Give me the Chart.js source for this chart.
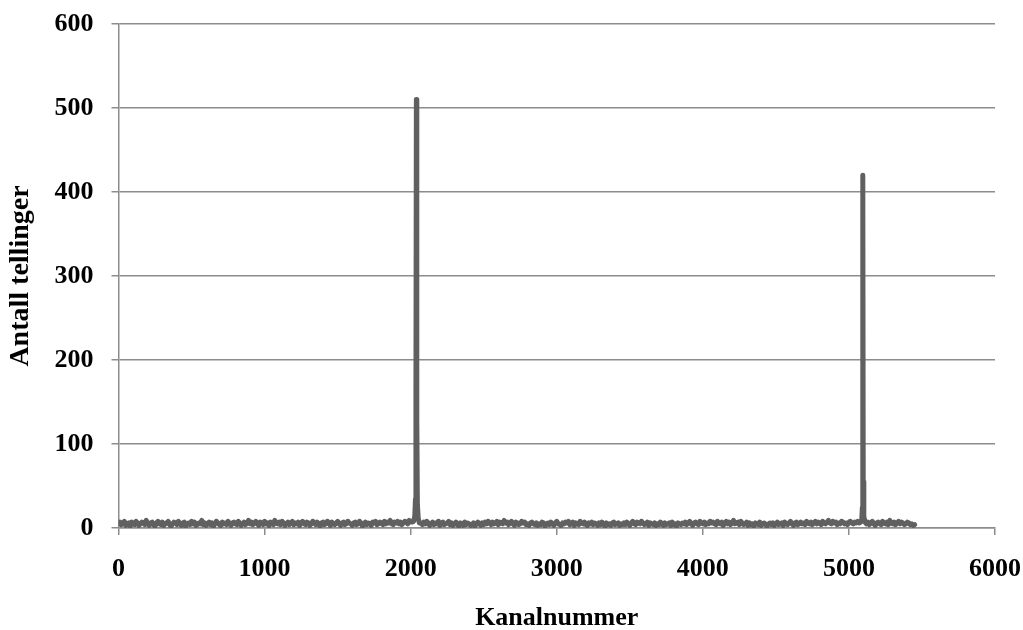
<!DOCTYPE html>
<html>
<head>
<meta charset="utf-8">
<script src="https://cdn.jsdelivr.net/npm/chart.js@4.4.0/dist/chart.umd.min.js"></script>
<style>
  html, body { margin: 0; padding: 0; background: #ffffff; }
  #wrap { width: 1023px; height: 630px; }
</style>
</head>
<body>
<div id="wrap"><canvas id="c" width="1023" height="630"></canvas></div>
<script>
// Spectrum read from the picture: background counts sampled every 10 channels,
// plus the two full-energy peaks.
const channelStep = 10;

const bgAStart = 0;      // channels 0 .. 2000
const bgA = [
  5,7,4,6,8,3,5,6,2,7,5,4,8,6,3,5,7,6,4,9,
  5,3,6,7,4,2,6,8,5,4,7,3,5,6,8,4,2,5,7,6,
  4,8,5,3,6,7,2,5,6,4,8,5,7,3,4,6,5,9,4,6,
  3,5,7,4,6,2,5,8,6,4,3,7,5,6,4,8,5,3,6,7,
  5,4,8,6,3,5,7,4,6,9,5,7,4,6,8,5,3,7,6,4,
  8,5,6,3,7,5,4,9,6,5,7,4,8,6,3,5,7,4,6,8,
  4,6,5,7,3,6,8,5,4,7,6,3,5,8,6,4,7,5,2,6,
  7,4,5,8,6,3,7,5,4,6,8,5,3,6,7,4,5,8,6,5,
  3,6,7,4,5,8,6,2,5,7,4,6,5,3,7,6,8,4,5,7,
  6,4,8,5,7,6,9,5,4,7,6,8,5,7,4,6,8,7,5,9,
  7
];

const peak1Channels = [2010, 2020, 2028, 2033, 2036, 2039, 2042, 2046, 2052, 2060];
const peak1Counts   = [   7,    8,   14,   35,  150,  510,  130,   28,   11,    6];

const bgBStart = 2070;   // channels 2070 .. 5080
const bgB = [
  6,4,7,5,8,6,3,5,7,4,6,5,8,3,6,7,4,5,6,8,
  4,6,3,5,7,4,2,6,5,3,7,4,6,5,3,4,6,2,5,7,
  5,3,6,4,7,5,8,6,4,7,5,6,8,4,7,6,5,9,6,7,
  4,6,8,5,3,7,6,4,5,8,6,7,4,5,3,6,7,5,4,6,
  3,5,4,7,6,2,5,6,4,7,5,3,6,8,5,4,3,6,5,7,
  6,8,4,5,7,3,6,5,4,8,6,5,7,4,3,6,5,7,4,6,
  5,3,6,4,7,5,2,6,4,5,3,6,7,4,5,6,3,5,4,6,
  4,7,5,3,6,8,5,4,7,6,5,8,6,4,5,7,3,6,5,4,
  6,3,5,4,7,5,3,6,4,5,6,3,7,4,5,2,6,5,4,6,
  5,7,4,6,8,5,3,6,7,5,4,8,6,5,7,4,6,5,8,6,
  7,5,4,8,6,5,7,3,6,8,5,7,4,6,9,5,6,7,4,8,
  6,4,5,7,3,6,4,5,2,6,5,4,7,3,5,6,4,2,5,6,
  4,6,3,5,7,4,5,6,3,7,5,4,6,8,5,3,6,7,4,5,
  7,5,6,4,8,6,5,7,4,6,8,5,7,6,4,8,6,5,7,9,
  6,5,8,6,7,4,6,5,8,7,5,6,4,7,8,6,5,7,6,8,
  6,7
];

const peak2Channels = [5088, 5092, 5094, 5096, 5098, 5102, 5110];
const peak2Counts   = [  10,   25,   60,  420,   55,   14,    7];

const bgCStart = 5120;   // channels 5120 .. 5450
const bgC = [
  5,7,4,6,8,5,3,6,7,5,4,8,6,5,7,4,9,6,5,7,
  4,6,8,5,7,6,4,5,7,6,4,5,3,4
];

const xTicks = [0, 1000, 2000, 3000, 4000, 5000, 6000];
const yTicks = [0, 100, 200, 300, 400, 500, 600];
const xTitle = 'Kanalnummer';
const yTitle = 'Antall tellinger';

// Build the (channel, count) table for the library
const bgPoints = (start, arr) => arr.map((v, i) => ({ x: start + i * channelStep, y: v }));
const pkPoints = (chs, cts) => chs.map((ch, i) => ({ x: ch, y: cts[i] }));
const points = [].concat(
  bgPoints(bgAStart, bgA),
  pkPoints(peak1Channels, peak1Counts),
  bgPoints(bgBStart, bgB),
  pkPoints(peak2Channels, peak2Counts),
  bgPoints(bgCStart, bgC)
);

const gridColor = '#8c8c8c';
const fontFam = "'Liberation Serif', 'Times New Roman', serif";

function noOverhang(s) {
  s.paddingLeft = 0; s.paddingRight = 0; s.paddingTop = 0; s.paddingBottom = 0;
}

new Chart(document.getElementById('c'), {
  type: 'line',
  data: {
    datasets: [{
      data: points,
      borderColor: '#606060',
      borderWidth: 5,
      pointRadius: 0,
      tension: 0,
      fill: false,
      borderJoinStyle: 'round',
      borderCapStyle: 'round'
    }]
  },
  options: {
    responsive: false,
    animation: false,
    devicePixelRatio: 1,
    layout: { padding: { left: 0, right: 28, top: 24, bottom: 0 } },
    plugins: { legend: { display: false }, tooltip: { enabled: false } },
    scales: {
      x: {
        type: 'linear',
        min: xTicks[0],
        max: xTicks[xTicks.length - 1],
        afterBuildTicks: (s) => { s.ticks = xTicks.map(v => ({ value: v })); },
        afterFit: (s) => { s.height = 102; noOverhang(s); },
        grid: { drawOnChartArea: false, drawTicks: true, tickLength: 7, color: gridColor, lineWidth: 1.5 },
        border: { display: true, color: gridColor, width: 1.5 },
        ticks: { color: '#000', padding: 19, maxRotation: 0,
                 callback: (v) => String(v),
                 font: { family: fontFam, size: 26, weight: 'bold' } },
        title: { display: true, text: xTitle, color: '#000', padding: 0,
                 font: { family: fontFam, size: 26, weight: 'bold', lineHeight: 0.9 } }
      },
      y: {
        type: 'linear',
        min: yTicks[0],
        max: yTicks[yTicks.length - 1],
        afterBuildTicks: (s) => { s.ticks = yTicks.map(v => ({ value: v })); },
        afterFit: (s) => { s.width = 118.5; noOverhang(s); },
        grid: { drawTicks: true, tickLength: 7, color: gridColor, lineWidth: 1.5 },
        border: { display: true, color: gridColor, width: 1.5 },
        ticks: { color: '#000', padding: 18,
                 callback: (v) => String(v),
                 font: { family: fontFam, size: 26, weight: 'bold' } },
        title: { display: true, text: yTitle, color: '#000', padding: { top: 4, bottom: 0 },
                 font: { family: fontFam, size: 28, weight: 'bold' } }
      }
    }
  }
});
</script>
</body>
</html>
